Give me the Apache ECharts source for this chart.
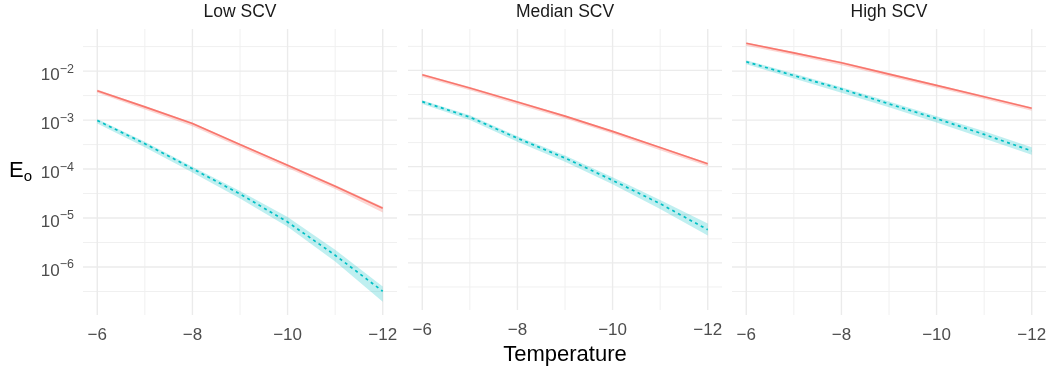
<!DOCTYPE html>
<html><head><meta charset="utf-8">
<script src="https://cdn.jsdelivr.net/npm/echarts@6/dist/echarts.min.js"></script>
<style>html,body{margin:0;padding:0;background:#fff}#c{width:1050px;height:371px}</style>
</head><body><div id="c"></div>
<script>
const panels = ['Low SCV', 'Median SCV', 'High SCV'];
const temperature = [-6, -7, -8, -9, -10, -11, -12];
const xMajorTicks = [-6, -8, -10, -12];
const xMinorTicks = [-7, -9, -11];
const yMajorTicks = [1e-2, 1e-3, 1e-4, 1e-5, 1e-6];
const yMinorTicks = [3.1623e-2, 3.1623e-3, 3.1623e-4, 3.1623e-5, 3.1623e-6, 3.1623e-7];

// Low SCV
const lowRed     = [3.98e-3, 1.86e-3, 8.5e-4, 3.16e-4, 1.20e-4, 4.47e-5, 1.58e-5];
const lowRedLo   = [3.6e-3, 1.65e-3, 7.5e-4, 2.8e-4, 1.05e-4, 3.9e-5, 1.3e-5];
const lowRedHi   = [4.2e-3, 1.95e-3, 8.9e-4, 3.3e-4, 1.26e-4, 4.7e-5, 1.7e-5];
const lowCyan    = [9.8e-4, 3.3e-4, 1.02e-4, 3.1e-5, 8.3e-6, 1.74e-6, 3.2e-7];
const lowCyanLo  = [8.5e-4, 2.8e-4, 8.5e-5, 2.5e-5, 6.6e-6, 1.29e-6, 1.95e-7];
const lowCyanHi  = [1.05e-3, 3.6e-4, 1.12e-4, 3.55e-5, 1.05e-5, 2.24e-6, 4.0e-7];
// Median SCV
const medRed     = [8.1e-3, 4.3e-3, 2.2e-3, 1.12e-3, 5.4e-4, 2.5e-4, 1.15e-4];
const medRedLo   = [7.3e-3, 3.85e-3, 1.95e-3, 1.0e-3, 4.8e-4, 2.2e-4, 1.02e-4];
const medRedHi   = [8.5e-3, 4.5e-3, 2.3e-3, 1.17e-3, 5.65e-4, 2.6e-4, 1.2e-4];
const medCyan    = [2.24e-3, 1.07e-3, 3.9e-4, 1.51e-4, 5.2e-5, 1.7e-5, 4.9e-6];
const medCyanLo  = [2.0e-3, 9.3e-4, 3.3e-4, 1.26e-4, 4.3e-5, 1.32e-5, 3.7e-6];
const medCyanHi  = [2.4e-3, 1.17e-3, 4.3e-4, 1.7e-4, 6.0e-5, 2.04e-5, 6.6e-6];
// High SCV
const highRed    = [3.7e-2, 2.35e-2, 1.48e-2, 8.7e-3, 5.1e-3, 3.0e-3, 1.74e-3];
const highRedLo  = [3.3e-2, 2.1e-2, 1.32e-2, 7.8e-3, 4.55e-3, 2.7e-3, 1.55e-3];
const highRedHi  = [3.85e-2, 2.45e-2, 1.55e-2, 9.1e-3, 5.35e-3, 3.15e-3, 1.82e-3];
const highCyan   = [1.55e-2, 8.1e-3, 4.3e-3, 2.14e-3, 1.07e-3, 5.1e-4, 2.34e-4];
const highCyanLo = [1.38e-2, 7.1e-3, 3.6e-3, 1.82e-3, 8.9e-4, 4.2e-4, 1.95e-4];
const highCyanHi = [1.66e-2, 8.9e-3, 4.7e-3, 2.4e-3, 1.2e-3, 5.9e-4, 2.8e-4];

const panelData = [
  {red: lowRed, redLo: lowRedLo, redHi: lowRedHi, cyan: lowCyan, cyanLo: lowCyanLo, cyanHi: lowCyanHi},
  {red: medRed, redLo: medRedLo, redHi: medRedHi, cyan: medCyan, cyanLo: medCyanLo, cyanHi: medCyanHi},
  {red: highRed, redLo: highRedLo, redHi: highRedHi, cyan: highCyan, cyanLo: highCyanLo, cyanHi: highCyanHi}
];

const RED = '#F8766D', CYAN = '#00BFC4';
const FONT = 'Liberation Sans, Arial, sans-serif';
const gridLefts = [83, 408, 732];
const gridW = 314, gridTop = 29, gridH = 286;
const yMin = 1.047e-7, yMax = 7.24e-2;
const xMin = -12.3, xMax = -5.7;

const pairs = (ys) => temperature.map((t, i) => [t, ys[i]]);

const grids = [], xAxes = [], yAxes = [], series = [], graphics = [];
panels.forEach((name, p) => {
  grids.push({left: gridLefts[p], top: gridTop, width: gridW, height: gridH, containLabel: false});
  xAxes.push({
    type: 'value', gridIndex: p, min: xMin, max: xMax, inverse: true, splitNumber: 3,
    axisLine: {show: false}, axisTick: {show: false}, splitLine: {show: false},
    axisLabel: {
      color: '#4D4D4D', fontSize: 17, fontFamily: FONT, margin: 12,
      formatter: (v) => xMajorTicks.indexOf(v) >= 0 ? '\u2212' + Math.abs(v) : ''
    },
    name: p === 1 ? 'Temperature' : '', nameLocation: 'middle', nameGap: 31,
    nameTextStyle: {color: '#000', fontSize: 22, fontFamily: FONT}
  });
  yAxes.push({
    type: 'log', gridIndex: p, min: yMin, max: yMax, logBase: 10,
    axisLine: {show: false}, axisTick: {show: false}, splitLine: {show: false},
    axisLabel: {
      show: p === 0, margin: 9,
      formatter: (v) => {
        const e = Math.log10(v);
        if (Math.abs(e - Math.round(e)) > 1e-6) return '';
        return '{b|10}{s|\u2212' + Math.abs(Math.round(e)) + '}';
      },
      rich: {
        b: {color: '#4D4D4D', fontSize: 17, fontFamily: FONT, lineHeight: 25, verticalAlign: 'bottom'},
        s: {color: '#4D4D4D', fontSize: 12.5, fontFamily: FONT, lineHeight: 16, verticalAlign: 'top', padding: [4, 0, 0, 0]}
      }
    }
  });
  const d = panelData[p];
  // background grid lines (drawn through the axes' scales)
  series.push({
    type: 'custom', xAxisIndex: p, yAxisIndex: p, z: 0, silent: true,
    data: [[temperature[0], yMajorTicks[0]]],
    renderItem: (params, api) => {
      const children = [];
      const mk = (p1, p2, major) => children.push({type: 'line',
        shape: {x1: p1[0], y1: p1[1], x2: p2[0], y2: p2[1]},
        style: {stroke: major ? '#EBEBEB' : '#F0F0F0', lineWidth: major ? 1.4 : 1}});
      xMinorTicks.forEach(v => mk(api.coord([v, yMin]), api.coord([v, yMax]), false));
      yMinorTicks.filter(v => v > yMin && v < yMax).forEach(v => mk(api.coord([xMin, v]), api.coord([xMax, v]), false));
      xMajorTicks.forEach(v => mk(api.coord([v, yMin]), api.coord([v, yMax]), true));
      yMajorTicks.forEach(v => mk(api.coord([xMin, v]), api.coord([xMax, v]), true));
      return {type: 'group', children: children};
    }
  });
  const band = (lo, hi, col) => {
    series.push({
      type: 'custom', xAxisIndex: p, yAxisIndex: p, z: 1, silent: true,
      data: temperature.map((t, i) => [t, lo[i], hi[i]]),
      encode: {x: 0, y: [1, 2]},
      renderItem: (params, api) => {
        if (params.dataIndex !== 0) return null;
        const pts = [];
        temperature.forEach((t, i) => pts.push(api.coord([t, hi[i]])));
        for (let i = temperature.length - 1; i >= 0; i--) pts.push(api.coord([temperature[i], lo[i]]));
        return {type: 'polygon', shape: {points: pts}, style: {fill: col}};
      }
    });
  };
  band(d.redLo, d.redHi, 'rgba(248,118,109,0.3)');
  band(d.cyanLo, d.cyanHi, 'rgba(0,191,196,0.25)');
  series.push({type: 'line', xAxisIndex: p, yAxisIndex: p, data: pairs(d.red), symbol: 'none',
    lineStyle: {color: RED, width: 1.7}, z: 3});
  series.push({type: 'line', xAxisIndex: p, yAxisIndex: p, data: pairs(d.cyan), symbol: 'none',
    lineStyle: {color: CYAN, width: 1.7, type: [3, 3.5]}, z: 3});
  graphics.push({type: 'text', x: gridLefts[p] + gridW / 2, y: 12.5,
    style: {text: name, fill: '#1A1A1A', fontSize: 17.5, fontFamily: FONT,
      textAlign: 'center', textVerticalAlign: 'middle'}});
});
graphics.push({type: 'text', x: 9, y: 171,
  style: {text: '{e|E}{o|o}', textVerticalAlign: 'middle', textAlign: 'left',
    rich: {
      e: {fill: '#000', fontSize: 22, fontFamily: FONT, lineHeight: 26, verticalAlign: 'middle'},
      o: {fill: '#000', fontSize: 15, fontFamily: FONT, lineHeight: 15, verticalAlign: 'bottom'}
    }}});

const chart = echarts.init(document.getElementById('c'), null, {renderer: 'canvas'});
chart.setOption({
  animation: false, backgroundColor: '#fff',
  grid: grids, xAxis: xAxes, yAxis: yAxes, series: series, graphic: graphics
});
</script></body></html>
